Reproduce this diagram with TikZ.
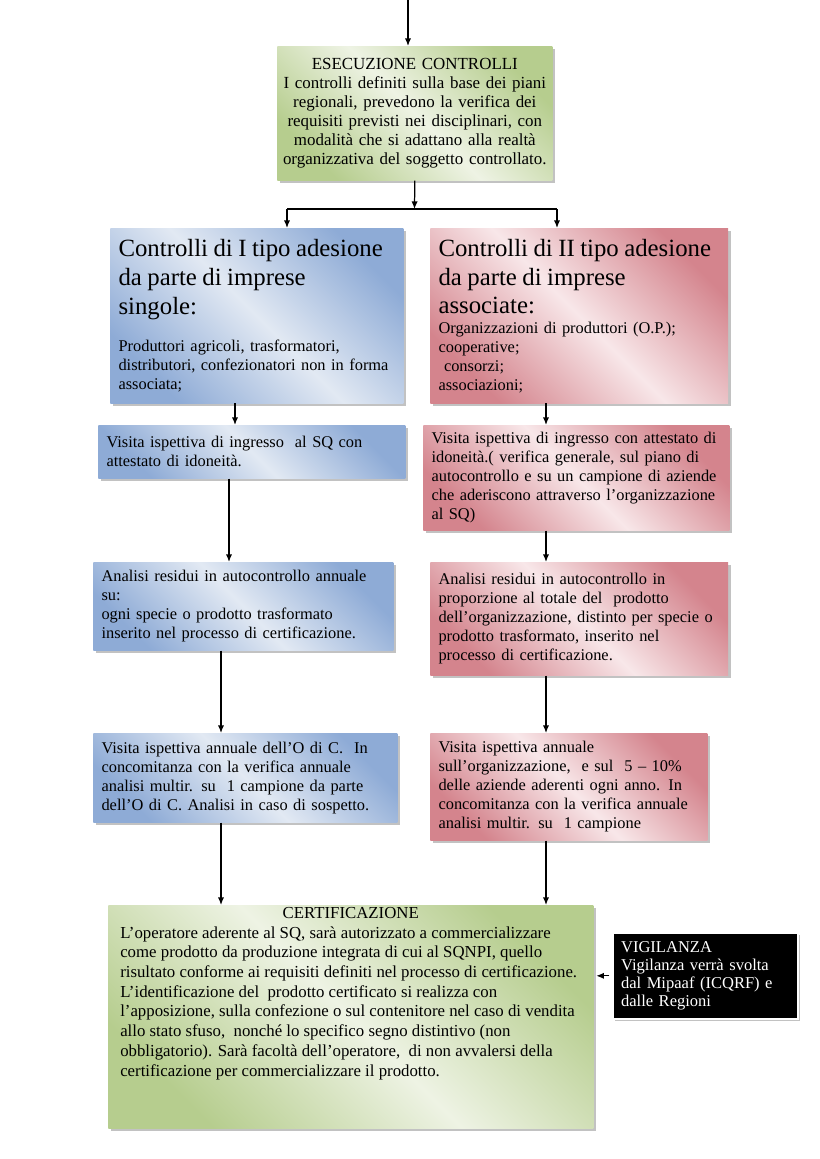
\documentclass[tikz,border=0pt]{standalone}
\usepackage{fontspec}
\setmainfont{Liberation Serif}
\usetikzlibrary{arrows.meta,shadows}

\definecolor{grnDark}{RGB}{182,205,142}
\definecolor{grnLight}{RGB}{238,243,228}
\definecolor{bluDark}{RGB}{142,171,214}
\definecolor{bluLight}{RGB}{226,233,243}
\definecolor{redDark}{RGB}{212,132,141}
\definecolor{redLight}{RGB}{248,231,233}

\newcommand{\bigfont}{\fontsize{18}{21}\selectfont}

\tikzset{
  box/.style={anchor=north west, inner xsep=6pt, inner ysep=3pt, align=left,
    font=\fontsize{11.9}{13.8}\selectfont,
    drop shadow={shadow xshift=1.8pt, shadow yshift=-1.8pt, fill=black!40, opacity=0.6}},
  greenbox/.style={box, top color=grnDark, bottom color=grnDark, middle color=grnLight, shading angle=-45},
  bluebox/.style={box, top color=bluDark, bottom color=bluDark, middle color=bluLight, shading angle=-45},
  redbox/.style={box, top color=redDark, bottom color=redDark, middle color=redLight, shading angle=-45},
  blackbox/.style={box, fill=black, text=white, draw=white, line width=1.2pt, inner xsep=6pt,
    font=\fontsize{12}{13.3}\selectfont},
  arr/.style={-{Latex[length=5.5pt,width=4.5pt]}, line width=0.9pt}
}

\begin{document}
\begin{tikzpicture}[x=0.726pt,y=-0.726pt]
    \useasboundingbox (0,0) rectangle (820,1159);

    % Boxes
    \node[greenbox, align=center, inner xsep=3pt, text width=193.7pt, minimum height=97.3pt,
          font=\fontsize{12.3}{13.8}\selectfont] (exec) at (277,46)
        {ESECUZIONE CONTROLLI\\ I controlli definiti sulla base dei piani\\ regionali, prevedono la verifica dei\\ requisiti previsti nei disciplinari, con\\ modalità che si adattano alla realtà\\ organizzativa del soggetto controllato.};

    \node[bluebox, text width=200.7pt, minimum height=127pt] (tipoI) at (110,228)
        {{\bigfont Controlli di I tipo adesione\\ da parte di imprese\\ singole:\par}\vspace{13pt}Produttori agricoli, trasformatori,\\ distributori, confezionatori non in forma\\ associata;};
    \node[redbox, text width=204.3pt, minimum height=127pt] (tipoII) at (430,228)
        {{\bigfont Controlli di II tipo adesione\\ da parte di imprese\\ associate:\par}Organizzazioni di produttori (O.P.);\\ cooperative;\\ \ consorzi;\\ associazioni;};

    \node[bluebox, text width=210.9pt, minimum height=38.5pt] (visL) at (98,425)
        {Visita ispettiva di ingresso \ al SQ con\\ attestato di idoneità.};
    \node[redbox, text width=210.2pt, minimum height=76.2pt] (visR) at (423,425)
        {Visita ispettiva di ingresso con attestato di\\ idoneità.( verifica generale, sul piano di\\ autocontrollo e su un campione di aziende\\ che aderiscono attraverso l’organizzazione\\ al SQ)};

    \node[bluebox, text width=205.8pt, minimum height=63.9pt] (anaL) at (93,562)
        {Analisi residui in autocontrollo annuale\\ su:\\ ogni specie o prodotto trasformato\\ inserito nel processo di certificazione.};
    \node[redbox, text width=204.3pt, minimum height=82pt] (anaR) at (430,562)
        {Analisi residui in autocontrollo in\\ proporzione al totale del \ prodotto\\ dell’organizzazione, distinto per specie o\\ prodotto trasformato, inserito nel\\ processo di certificazione.};

    \node[bluebox, text width=208.7pt, minimum height=64.6pt] (annL) at (93,733)
        {Visita ispettiva annuale dell’O di C. \ In\\ concomitanza con la verifica annuale\\ analisi multir. su \ 1 campione da parte\\ dell’O di C. Analisi in caso di sospetto.};
    \node[redbox, text width=189.1pt, minimum height=77.7pt] (annR) at (430,733)
        {Visita ispettiva annuale\\ sull’organizzazione, \ e sul \ 5 – 10\%\\ delle aziende aderenti ogni anno. In\\ concomitanza con la verifica annuale\\ analisi multir. su \ 1 campione};

    \node[greenbox, inner xsep=8.7pt, inner ysep=1.5pt] (cert) at (108,905)
        {\parbox[t][158.9pt][t]{334.7pt}{\fontsize{12.2}{14.3}\selectfont
        \makebox[\linewidth]{CERTIFICAZIONE}\\
        L’operatore aderente al SQ, sarà autorizzato a commercializzare\\
        come prodotto da produzione integrata di cui al SQNPI, quello\\
        risultato conforme ai requisiti definiti nel processo di certificazione.\\
        L’identificazione del \ prodotto certificato si realizza con\\
        l’apposizione, sulla confezione o sul contenitore nel caso di vendita\\
        allo stato sfuso, \ nonché lo specifico segno distintivo (non\\
        obbligatorio). Sarà facoltà dell’operatore, \ di non avvalersi della\\
        certificazione per commercializzare il prodotto.}};

    \node[blackbox, text width=122.3pt, minimum height=62.4pt] (vig) at (612,932)
        {VIGILANZA\\ Vigilanza verrà svolta\\ dal Mipaaf (ICQRF) e\\ dalle Regioni};

    % Arrows
    \coordinate (top) at (408,0);
    \coordinate (split) at (414.5,209);
    \coordinate (brL) at (287,209);
    \coordinate (brR) at (557,209);
    \coordinate (colA) at (235,0);
    \coordinate (colB) at (229,0);
    \coordinate (colC) at (221,0);
    \coordinate (colR) at (546,0);

    \draw[arr] (top) -- (top |- exec.north);
    \draw[arr] (exec.south) -- (split);
    \draw[line width=0.9pt] (brL) -- (brR);
    \draw[arr] (brL) -- (brL |- tipoI.north);
    \draw[arr] (brR) -- (brR |- tipoII.north);

    \draw[arr] (colA |- tipoI.south) -- (colA |- visL.north);
    \draw[arr] (colB |- visL.south) -- (colB |- anaL.north);
    \draw[arr] (colC |- anaL.south) -- (colC |- annL.north);
    \draw[arr] (colC |- annL.south) -- (colC |- cert.north);

    \draw[arr] (colR |- tipoII.south) -- (colR |- visR.north);
    \draw[arr] (colR |- visR.south) -- (colR |- anaR.north);
    \draw[arr] (colR |- anaR.south) -- (colR |- annR.north);
    \draw[arr] (colR |- annR.south) -- (colR |- cert.north);

    \draw[arr, shorten <=2pt, shorten >=2pt] (vig.west) -- (vig.west -| cert.east);
\end{tikzpicture}
\end{document}
